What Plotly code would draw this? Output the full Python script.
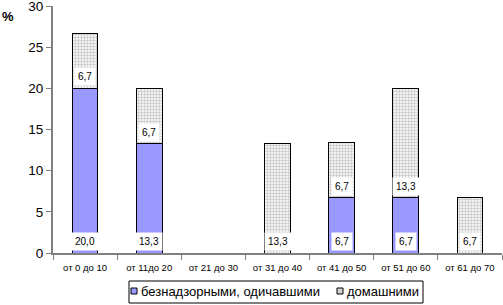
import plotly.graph_objects as go

categories = ["от 0 до 10", "от 11до 20", "от 21 до 30", "от 31 до 40",
              "от 41 до 50", "от 51 до 60", "от 61 до 70"]
stray = [20.0, 13.3, 0, 0, 6.7, 6.7, 0]
domestic = [6.7, 6.7, 0, 13.3, 6.7, 13.3, 6.7]
series_names = ["безнадзорными, одичавшими", "домашними"]
y_ticks = [0, 5, 10, 15, 20, 25, 30]

FONT = "Liberation Sans, Arial, sans-serif"
W, H = 503, 305
L, R, T, B = 53, 1, 6, 52
PW, PH = W - L - R, H - T - B


def px(x):
    return (x - L) / PW


def py(y):
    return (H - B - y) / PH


def fmt(v):
    return f"{v:.1f}".replace(".", ",")


fig = go.Figure()
fig.add_trace(go.Bar(
    x=categories, y=stray, name=series_names[0],
    marker=dict(color="#9999FF", line=dict(color="black", width=1)),
    width=0.4,
))
fig.add_trace(go.Bar(
    x=categories, y=domestic, name=series_names[1],
    marker=dict(color="white", line=dict(color="black", width=1),
                pattern=dict(shape=".", fgcolor="#8c8c8c", bgcolor="white",
                             size=3, solidity=0.5)),
    width=0.4,
))

annotations = []
for c, s, d in zip(categories, stray, domestic):
    if s > 0:
        annotations.append(dict(x=c, y=0, text=fmt(s), showarrow=False,
                                yanchor="bottom", yshift=2, bgcolor="white",
                                borderpad=3, font=dict(size=10, color="black", family=FONT)))
    if d > 0:
        annotations.append(dict(x=c, y=s, text=fmt(d), showarrow=False,
                                yanchor="bottom", yshift=2, bgcolor="white",
                                borderpad=3, font=dict(size=10, color="black", family=FONT)))
annotations.append(dict(x=px(0), xref="paper", xanchor="left", y=py(16), yref="paper",
                        yanchor="middle", text="<b>%</b>", showarrow=False,
                        font=dict(size=13, family=FONT, color="black")))

# custom legend
annotations.append(dict(x=px(139), xref="paper", xanchor="left", y=py(291), yref="paper",
                        yanchor="middle", text=series_names[0], showarrow=False,
                        font=dict(size=13, family=FONT, color="black")))
annotations.append(dict(x=px(345), xref="paper", xanchor="left", y=py(291), yref="paper",
                        yanchor="middle", text=series_names[1], showarrow=False,
                        font=dict(size=13, family=FONT, color="black")))
shapes = [
    dict(type="rect", xref="paper", yref="paper", x0=px(129), x1=px(423), y0=py(281), y1=py(303),
         line=dict(color="black", width=1), fillcolor="white", layer="below"),
    dict(type="rect", xref="paper", yref="paper", x0=px(131), x1=px(137), y0=py(288), y1=py(294),
         line=dict(color="black", width=1), fillcolor="#9999FF"),
    dict(type="rect", xref="paper", yref="paper", x0=px(337), x1=px(343), y0=py(288), y1=py(294),
         line=dict(color="black", width=1), fillcolor="#d4d4d4"),
]

fig.update_layout(
    barmode="stack",
    width=W, height=H,
    margin=dict(l=L, r=R, t=T, b=B),
    paper_bgcolor="white", plot_bgcolor="white",
    font=dict(family=FONT, color="black"),
    showlegend=False,
    annotations=annotations,
    shapes=shapes,
    xaxis=dict(showline=True, linecolor="#808080", linewidth=2, ticks="outside",
               tickson="boundaries", ticklen=5, tickcolor="#808080",
               tickfont=dict(size=9.5, family=FONT), showgrid=False, automargin=False,
               ticklabelstandoff=5),
    yaxis=dict(range=[0, 30], tickvals=y_ticks, showline=True, linecolor="#808080",
               linewidth=2, ticks="outside", ticklen=5, tickcolor="#808080",
               tickfont=dict(size=13.5, family=FONT), showgrid=False, zeroline=False,
               automargin=False, ticklabeloverflow="allow"),
)
fig.write_html("out.html", config={"displayModeBar": False},
               post_script="document.body.style.margin='0';document.body.style.overflow='hidden';")
